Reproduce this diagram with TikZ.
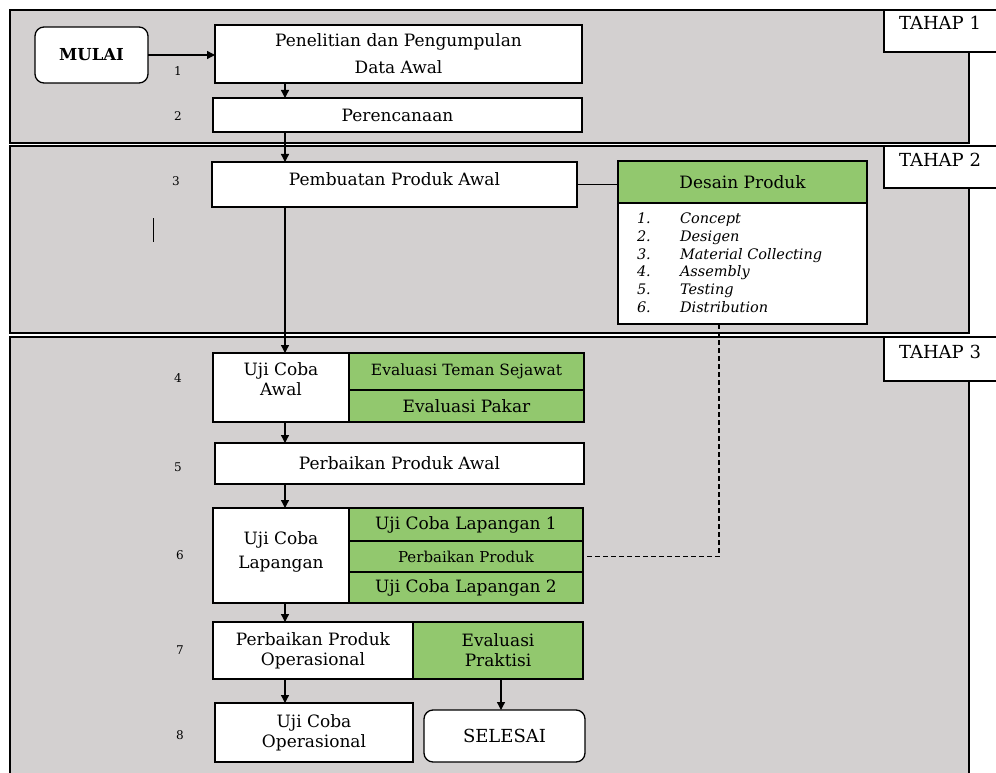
\documentclass[tikz,border=0pt]{standalone}
\usepackage{fontspec}
\setmainfont{DejaVu Serif}
\usetikzlibrary{arrows.meta,calc}
\definecolor{panelgrey}{RGB}{211,208,208}
\definecolor{boxgreen}{RGB}{146,200,110}
\begin{document}
\begin{tikzpicture}[x=1pt,y=-1pt,
  every node/.style={inner sep=0pt, outer sep=0pt},
  box/.style={draw=black, line width=1.3pt, fill=white, anchor=north west, align=center,
    font=\fontsize{17}{20}\selectfont},
  gbox/.style={box, fill=boxgreen},
  rbox/.style={box, rounded corners=9pt},
  panel/.style={draw=black, line width=1.3pt, fill=panelgrey},
  tahapbox/.style={draw=black, line width=1.3pt, fill=white},
  tahaptext/.style={font=\fontsize{18}{20}\selectfont},
  num/.style={font=\fontsize{12}{14}\selectfont},
  item/.style={anchor=base west, font=\fontsize{14.5}{16}\itshape},
  arr/.style={line width=1.3pt, -{Triangle[length=8pt,width=8pt]}},
  conn/.style={line width=1.3pt},
  dconn/.style={line width=1.3pt, dashed, dash pattern=on 5pt off 3pt}]
\clip (0,0) rectangle (996,773);
\fill[white] (0,0) rectangle (996,773);
% panels
\draw[panel] (10,10) rectangle (969,143);
\draw[panel] (10,146) rectangle (969,333);
\draw[panel] (10,337) rectangle (969,800);
% tahap labels
\draw[tahapbox] (884,10) rectangle (1010,52);
\node[tahaptext] (t1) at (940,23) {TAHAP 1};
\draw[tahapbox] (884,146) rectangle (1010,188);
\node[tahaptext] (t2) at (940,160) {TAHAP 2};
\draw[tahapbox] (884,337) rectangle (1010,381);
\node[tahaptext] (t3) at (940,352) {TAHAP 3};
% stray mark
\draw[line width=1pt] (153,218) -- (153,242);
% nodes
\node[rbox, minimum width=113pt, minimum height=56pt, font=\fontsize{16.5}{18}\bfseries] (mulai) at (35,27) {MULAI};
\node[box, minimum width=367pt, minimum height=58pt, font=\fontsize{17}{27}\selectfont] (b1) at (215,25) {Penelitian dan Pengumpulan\\Data Awal};
\node[box, minimum width=369pt, minimum height=34pt] (b2) at (213,98) {Perencanaan};
\node[box, minimum width=365pt, minimum height=45pt, text depth=10pt] (b3) at (212,162) {Pembuatan Produk Awal};
\node[gbox, minimum width=249pt, minimum height=42pt] (dp1) at (618,161) {Desain Produk};
\node[box, minimum width=249pt, minimum height=121pt] (dp2) at (618,203) {};
\node[box, minimum width=136pt, minimum height=69pt, text depth=17pt] (b4a) at (213,353) {Uji Coba\\Awal};
\node[gbox, minimum width=235pt, minimum height=37pt, font=\fontsize{15.5}{17}\selectfont] (b4b) at (349,353) {Evaluasi Teman Sejawat};
\node[gbox, minimum width=235pt, minimum height=32pt] (b4c) at (349,390) {Evaluasi Pakar};
\node[box, minimum width=369pt, minimum height=41pt] (b5) at (215,443) {Perbaikan Produk Awal};
\node[box, minimum width=136pt, minimum height=95pt, font=\fontsize{17}{24}\selectfont, text depth=10pt] (b6a) at (213,508) {Uji Coba\\Lapangan};
\node[gbox, minimum width=234pt, minimum height=33pt] (b6b) at (349,508) {Uji Coba Lapangan 1};
\node[gbox, minimum width=234pt, minimum height=31pt, font=\fontsize{15}{16}\selectfont] (b6c) at (349,541) {Perbaikan Produk};
\node[gbox, minimum width=234pt, minimum height=31pt] (b6d) at (349,572) {Uji Coba Lapangan 2};
\node[box, minimum width=200pt, minimum height=57pt] (b7a) at (213,622) {Perbaikan Produk\\Operasional};
\node[gbox, minimum width=170pt, minimum height=57pt] (b7b) at (413,622) {Evaluasi\\Praktisi};
\node[box, minimum width=198pt, minimum height=59pt] (b8) at (215,703) {Uji Coba\\Operasional};
\node[rbox, minimum width=161pt, minimum height=52pt, font=\fontsize{18}{20}\selectfont] (sel) at (424,710) {SELESAI};
% list inside Desain Produk
\foreach \i/\t/\y in {1/Concept/223, 2/Desigen/241, 3/Material Collecting/259, 4/Assembly/276, 5/Testing/294, 6/Distribution/312} {
  \node[item] (dn\i) at (637,\y) {\i.};
  \node[item] (dt\i) at (680,\y) {\t};
}
% step numbers
\node[num] (n1) at (178,71) {1};
\node[num] (n2) at (178,116) {2};
\node[num] (n3) at (176,181) {3};
\node[num] (n4) at (178,378) {4};
\node[num] (n5) at (178,467) {5};
\node[num] (n6) at (180,555) {6};
\node[num] (n7) at (180,650) {7};
\node[num] (n8) at (180,735) {8};
% helper coordinates
\coordinate (ax) at (285,0);
\coordinate (bx) at (501,0);
\coordinate (dx) at (719,0);
% connectors
\draw[arr] (mulai.east) -- (mulai.east -| b1.west);
\draw[arr] (b1.south -| ax) -- (b2.north -| ax);
\draw[arr] (b2.south -| ax) -- (b3.north -| ax);
\draw[arr] (b3.south -| ax) -- (b4a.north -| ax);
\draw[arr] (b4a.south -| ax) -- (b5.north -| ax);
\draw[arr] (b5.south -| ax) -- (b6a.north -| ax);
\draw[arr] (b6a.south -| ax) -- (b7a.north -| ax);
\draw[arr] (b7a.south -| ax) -- (b8.north -| ax);
\draw[arr] (b7b.south -| bx) -- (sel.north -| bx);
\draw[conn] (b3.east) -- (b3.east -| dp1.west);
\draw[dconn] (dp2.south -| dx) -- (dx |- b6c.east) -- (b6c.east);
\end{tikzpicture}
\end{document}
